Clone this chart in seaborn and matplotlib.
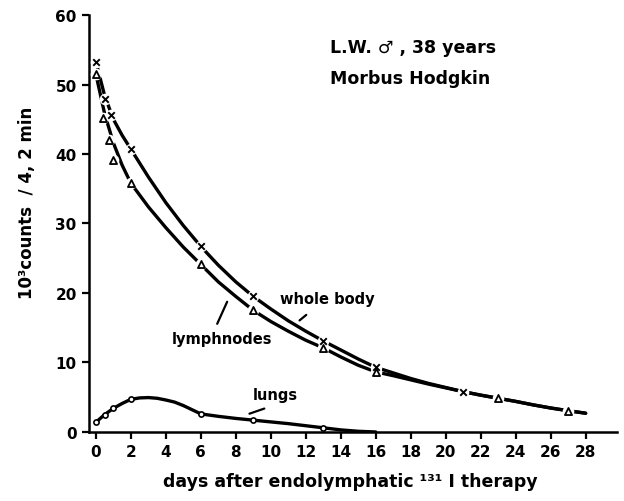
import matplotlib
matplotlib.use("Agg")
import matplotlib.pyplot as plt
import seaborn as sns

# measured points (markers)
wb_days = [0, 0.5, 0.85, 2, 6, 9, 13, 16, 21]
wb_counts = [53.3, 47.9, 45.6, 40.7, 26.7, 19.5, 13.1, 9.3, 5.8]
ln_days = [0, 0.4, 0.75, 1, 2, 6, 9, 13, 16, 23, 27]
ln_counts = [51.5, 45.2, 42.0, 39.2, 35.8, 24.1, 17.5, 12.1, 8.65, 4.9, 3.06]
lu_days = [0, 0.5, 1, 2, 6, 9, 13]
lu_counts = [1.4, 2.5, 3.4, 4.7, 2.6, 1.7, 0.6]

# fitted curves
wb_curve_x = [0, 0.5, 1, 1.5, 2, 3, 4, 5, 6, 7, 8, 9, 10, 11, 12, 13, 14, 15, 16,
              17, 18, 19, 20, 21, 22, 23, 24, 25, 26, 27, 28]
wb_curve_y = [53.3, 48.4, 45.0, 42.7, 40.7, 36.7, 33.0, 29.7, 26.7, 24.0, 21.6, 19.5,
              17.7, 16.0, 14.5, 13.1, 11.8, 10.5, 9.3, 8.5, 7.7, 7.0, 6.4, 5.8,
              5.3, 4.85, 4.4, 3.9, 3.45, 3.06, 2.7]
ln_curve_x = [0, 0.5, 1, 1.5, 2, 3, 4, 5, 6, 7, 8, 9, 10, 11, 12, 13, 14, 15, 16,
              17, 18, 19, 20, 21, 22, 23, 24, 25, 26, 27, 28]
ln_curve_y = [51.5, 45.8, 41.6, 38.4, 35.8, 32.4, 29.4, 26.6, 24.1, 21.6, 19.5, 17.5,
              15.9, 14.5, 13.2, 12.1, 10.8, 9.6, 8.65, 8.1, 7.5, 6.9, 6.35, 5.8,
              5.3, 4.85, 4.4, 3.9, 3.45, 3.06, 2.7]
lu_curve_x = [0, 0.5, 1, 1.5, 2, 2.5, 3, 3.5, 4, 4.5, 5, 5.5, 6, 7, 8, 9, 10,
              11, 12, 13, 14, 15, 16]
lu_curve_y = [1.4, 2.5, 3.4, 4.1, 4.7, 4.9, 4.95, 4.85, 4.6, 4.3, 3.8, 3.2, 2.6,
              2.25, 1.95, 1.7, 1.45, 1.2, 0.9, 0.6, 0.3, 0.1, 0.0]

x_ticks = list(range(0, 29, 2))
y_ticks = list(range(0, 61, 10))

sns.set_style("ticks")
plt.rcParams["font.family"] = ["DejaVu Sans"]
plt.rcParams["font.weight"] = "bold"
plt.rcParams["text.color"] = "black"
plt.rcParams["xtick.color"] = "black"
plt.rcParams["ytick.color"] = "black"
plt.rcParams["axes.edgecolor"] = "black"

fig = plt.figure(figsize=(6.24, 5.02), dpi=100)
ax = fig.add_axes([0.143, 0.1375, 0.846, 0.8375])

lw = 2.4
sns.lineplot(x=wb_curve_x, y=wb_curve_y, ax=ax, color="black", lw=lw, estimator=None, sort=False)
sns.lineplot(x=ln_curve_x, y=ln_curve_y, ax=ax, color="black", lw=lw, estimator=None, sort=False)
sns.lineplot(x=lu_curve_x, y=lu_curve_y, ax=ax, color="black", lw=lw, estimator=None, sort=False)

# markers with a small white halo, like the gaps in the drawn lines
for xs, ys in [(wb_days, wb_counts), (ln_days, ln_counts)]:
    ax.scatter(xs, ys, s=70, color="white", zorder=3, linewidths=0)
ax.scatter(wb_days, wb_counts, marker="x", s=22, color="black", linewidths=1.4, zorder=4)
ax.scatter(ln_days, ln_counts, marker="^", s=26, facecolor="white", edgecolor="black",
           linewidths=1.3, zorder=4)
ax.scatter(lu_days, lu_counts, marker="o", s=14, facecolor="white", edgecolor="black",
           linewidths=1.2, zorder=4)

ax.set_xlim(-0.38, 29.8)
ax.set_ylim(0, 60.5)
ax.set_xticks(x_ticks)
ax.set_yticks(y_ticks)
ax.tick_params(labelsize=11, width=1.6, length=5, direction="out", pad=4, colors="black")
for lab in ax.get_xticklabels() + ax.get_yticklabels():
    lab.set_fontweight("bold")
sns.despine(ax=ax)
ax.spines["left"].set_bounds(0, 60)
for s in ["left", "bottom"]:
    ax.spines[s].set_linewidth(1.8)

# curve labels
ax.text(10.55, 19.2, "whole body", fontsize=10.5, fontweight="bold", va="center")
ax.annotate("", xy=(11.52, 15.8), xytext=(12.15, 17.1),
            arrowprops=dict(arrowstyle="-", lw=1.6, color="black"))
ax.text(4.33, 13.5, "lymphnodes", fontsize=10.5, fontweight="bold", va="center")
ax.annotate("", xy=(7.57, 19.1), xytext=(6.87, 15.2),
            arrowprops=dict(arrowstyle="-", lw=1.6, color="black"))
ax.text(8.97, 5.4, "lungs", fontsize=10.5, fontweight="bold", va="center")
ax.annotate("", xy=(8.63, 2.5), xytext=(9.78, 3.5),
            arrowprops=dict(arrowstyle="-", lw=1.6, color="black"))

ax.text(13.4, 55.4, "L.W. \u2642 , 38 years", fontsize=12.5, fontweight="bold", va="center")
ax.text(13.4, 50.9, "Morbus Hodgkin", fontsize=12.5, fontweight="bold", va="center")

fig.text(0.562, 0.04, "days after endolymphatic \u00b9\u00b3\u00b9 I therapy",
         fontsize=12.5, fontweight="bold", ha="center", va="center")
fig.text(0.044, 0.595, "10\u00b3counts  / 4, 2 min", fontsize=12, fontweight="bold",
         rotation=90, ha="center", va="center")

fig.savefig("out.png", dpi=100)
